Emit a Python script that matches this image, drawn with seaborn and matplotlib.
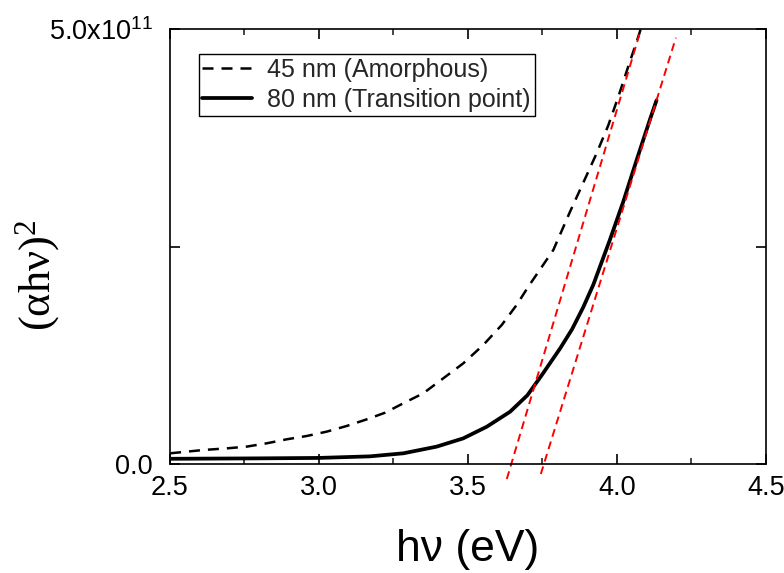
import numpy as np
import pandas as pd
import matplotlib
matplotlib.use("Agg")
import matplotlib.pyplot as plt
import seaborn as sns
from matplotlib.ticker import MultipleLocator

# ---- data (y in units of 1e11) ----
x45 = [2.502, 2.613, 2.692, 2.759, 2.826, 2.893, 2.96, 3.027, 3.094, 3.161,
       3.223, 3.284, 3.351, 3.418, 3.485, 3.552, 3.614, 3.664, 3.703, 3.787,
       3.843, 3.887, 3.932, 3.971, 4.005, 4.038, 4.072, 4.08]
y45 = [0.123, 0.161, 0.18, 0.2, 0.238, 0.284, 0.322, 0.372, 0.437, 0.513,
       0.59, 0.698, 0.813, 0.985, 1.157, 1.368, 1.598, 1.828, 2.038, 2.46,
       2.9, 3.23, 3.57, 3.89, 4.222, 4.567, 4.912, 5.0]

x80 = [2.5, 2.8, 3.0, 3.172, 3.284, 3.396, 3.485, 3.564, 3.642, 3.70, 3.75,
       3.81, 3.85, 3.887, 3.921, 3.977, 4.022, 4.066, 4.111, 4.133]
y80 = [0.06, 0.065, 0.07, 0.088, 0.123, 0.2, 0.295, 0.429, 0.601, 0.79, 1.03,
       1.33, 1.55, 1.80, 2.06, 2.58, 3.02, 3.49, 3.96, 4.18]

fit1_x = [3.631, 4.081]
fit1_y = [-0.172, 5.0]
fit2_x = [3.745, 4.198]
fit2_y = [-0.115, 4.9]

labels = ["45 nm (Amorphous)", "80 nm (Transition point)"]
xticks = [2.5, 3.0, 3.5, 4.0, 4.5]
yticks = [0.0, 2.5, 5.0]
ytick_labels = ["0.0", "", "5.0x10$^{11}$"]

scale = 1e11

sns.set_theme(style="ticks")
plt.rcParams["font.family"] = ["Liberation Sans", "DejaVu Sans"]
plt.rcParams["mathtext.default"] = "regular"

fig = plt.figure(figsize=(7.84, 5.73), dpi=100)
ax = fig.add_axes([0.2162, 0.1902, 0.9770 - 0.2162, 0.9494 - 0.1902])

d45 = pd.DataFrame({"x": x45, "y": np.array(y45) * scale})
d80 = pd.DataFrame({"x": x80, "y": np.array(y80) * scale})
f1 = pd.DataFrame({"x": fit1_x, "y": np.array(fit1_y) * scale})
f2 = pd.DataFrame({"x": fit2_x, "y": np.array(fit2_y) * scale})

sns.lineplot(data=d45, x="x", y="y", ax=ax, color="black", lw=1.8,
             linestyle=(0, (4.4, 3.2)), sort=False, label=labels[0])
sns.lineplot(data=d80, x="x", y="y", ax=ax, color="black", lw=2.7,
             sort=False, label=labels[1])
sns.lineplot(data=f1, x="x", y="y", ax=ax, color="#ff0000", lw=1.4,
             linestyle=(0, (4.1, 2.6)), sort=False, clip_on=False, legend=False)
sns.lineplot(data=f2, x="x", y="y", ax=ax, color="#ff0000", lw=1.4,
             linestyle=(0, (4.1, 2.6)), sort=False, clip_on=False, legend=False)

ax.set_xlim(2.5, 4.5)
ax.set_ylim(0, 5.0 * scale)
ax.set_xticks(xticks)
ax.set_xticklabels([f"{t:.1f}" for t in xticks])
ax.xaxis.set_minor_locator(MultipleLocator(0.25))
ax.set_yticks([t * scale for t in yticks])
ax.set_yticklabels(ytick_labels)

for s in ax.spines.values():
    s.set_linewidth(1.2)
    s.set_color("black")

ax.tick_params(axis="both", which="major", direction="in", length=7, width=1.2,
               top=True, right=True, labelsize=19.5, colors="black")
ax.tick_params(axis="x", which="minor", direction="in", length=4, width=1.2,
               top=True, bottom=True)
ax.tick_params(axis="x", which="major", pad=8)
ax.tick_params(axis="y", which="major", pad=12)

ax.set_xlabel("hν (eV)", fontsize=32, color="black")
ax.xaxis.set_label_coords(0.5, -0.15)
ax.set_ylabel("(αhν)$^{2}$", fontsize=32, color="black",
              family=["Liberation Serif", "DejaVu Serif"])
ax.yaxis.set_label_coords(-0.18, 0.434)

handles, lbls = ax.get_legend_handles_labels()
leg = ax.legend(handles[:2], lbls[:2], loc="upper left",
                bbox_to_anchor=(0.049, 0.943), borderaxespad=0,
                fontsize=18, frameon=True, fancybox=False, framealpha=1,
                edgecolor="black", handlelength=2.0, handletextpad=0.6,
                labelspacing=0.25, borderpad=0.15)
leg.get_frame().set_linewidth(1.0)

fig.savefig("out.png", dpi=100)
